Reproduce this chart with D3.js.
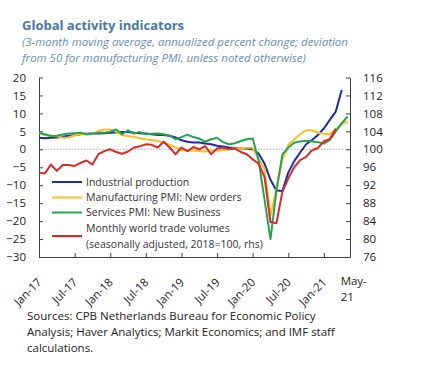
<!DOCTYPE html>
<html>
<head>
<meta charset="utf-8">
<script src="https://cdn.jsdelivr.net/npm/d3@7"></script>
<style>
  body { margin: 0; background: #fff; }
  svg { display: block; font-family: "Open Sans", sans-serif; }
  .axis path, .axis line { stroke: #404040; }
  .axis text { fill: #222; font-size: 11.5px; font-family: "Open Sans", sans-serif; }
</style>
</head>
<body>
<svg id="chart" width="432" height="380"></svg>
<script>
// months are indexed from Jan-17 (0) to May-21 (52)
var tickMonths = [0, 6, 12, 18, 24, 30, 36, 42, 48];
var tickLabels = ["Jan-17", "Jul-17", "Jan-18", "Jul-18", "Jan-19", "Jul-19", "Jan-20", "Jul-20", "Jan-21"];
var lastLabel = ["May-", "21"];
var lastMonth = 52;

var leftTicks = [20, 15, 10, 5, 0, -5, -10, -15, -20, -25, -30];
var rightTicks = [116, 112, 108, 104, 100, 96, 92, 88, 84, 80, 76];

// lhs, percent
var industrial = [3.2, 3.1, 3.2, 3.3, 3.5, 3.8, 4.0, 4.2, 4.3, 4.4,
  4.4, 4.5, 4.6, 4.7, 4.8, 4.8, 4.6, 4.5, 4.4, 4.2,
  4.0, 4.0, 3.8, 3.3, 2.5, 2.1, 1.9, 1.9, 1.6, 1.4,
  1.0, 0.8, 0.5, 0.3, 0.3, 0.2, 0.0, -1.2, -4.0, -8.5,
  -11.5, -11.6, -6.5, -3.3, -0.9, 1.4, 2.6, 4.0, 5.8, 8.2,
  10.5, 16.5, null];

var manufacturing = [4.6, 3.9, 3.8, 3.6, 3.2, 3.3, 3.9, 4.3, 4.1, 4.2,
  5.1, 5.5, 5.5, 4.9, 3.9, 3.7, 3.4, 3.1, 2.8, 2.6,
  2.3, 1.9, 1.2, 0.5, -0.2, -0.3, -0.4, -0.5, -0.6, -0.5,
  -0.3, -0.2, 0.0, 0.2, 0.3, 0.4, 0.4, -2.8, -5.5, -18.5,
  -11.0, -3.0, 1.2, 2.8, 4.2, 5.3, 5.3, 4.6, 4.3, 4.2,
  5.6, 7.0, 7.8];

var services = [4.6, 4.2, 3.7, 3.8, 4.1, 4.4, 4.5, 4.6, 4.2, 4.4,
  4.6, 4.6, 4.9, 5.5, 4.2, 5.3, 4.4, 4.8, 4.2, 4.3,
  4.4, 4.2, 3.8, 2.8, 3.4, 4.1, 3.4, 3.0, 2.1, 2.8,
  3.2, 2.0, 1.4, 1.7, 2.3, 2.8, 3.0, -3.0, -14.0, -25.0,
  -11.5, -1.5, 0.5, 1.8, 2.2, 2.4, 2.2, 2.0, 1.6, 2.6,
  5.0, 7.2, 9.2];

// rhs, index 2018=100
var trade = [94.8, 94.6, 96.6, 95.2, 96.5, 96.5, 96.3, 97.0, 97.5, 96.6,
  98.9, 99.6, 100.0, 99.4, 99.0, 99.5, 100.4, 100.7, 101.1, 101.0,
  100.4, 101.7, 100.4, 98.9, 100.4, 99.6, 100.5, 100.0, 100.7, 98.9,
  100.2, 100.4, 100.0, 100.2, 99.4, 98.9, 97.8, 96.8, 93.8, 83.8,
  83.5, 90.5, 93.5, 96.0, 97.6, 98.3, 99.8, 100.3, 101.8, 102.3,
  104.6, null, null];

var series = [
  { name: "Industrial production", values: industrial, axis: "left", color: "#1f2aa3" },
  { name: "Manufacturing PMI: New orders", values: manufacturing, axis: "left", color: "#f6c02c" },
  { name: "Services PMI: New Business", values: services, axis: "left", color: "#27a451" },
  { name: ["Monthly world trade volumes", "(seasonally adjusted, 2018=100, rhs)"], values: trade, axis: "right", color: "#db2a2a" }
];

var svg = d3.select("#chart");
var margin = { left: 39, right: 350, top: 77.5, bottom: 257 };

var x = d3.scaleLinear().domain([0, 52.4]).range([margin.left, margin.right]);
var yL = d3.scaleLinear().domain([-30, 20]).range([margin.bottom, margin.top]);
var yR = d3.scaleLinear().domain([76, 116]).range([margin.bottom, margin.top]);

// Title
svg.append("text").attr("x", 22).attr("y", 30)
  .style("font-size", "13px").style("font-weight", "700").style("fill", "#4a79a6")
  .text("Global activity indicators");
svg.append("text").attr("x", 22).attr("y", 46)
  .style("font-size", "11.5px").style("font-style", "italic").style("fill", "#6a8db2")
  .text("(3-month moving average, annualized percent change; deviation");
svg.append("text").attr("x", 22).attr("y", 62)
  .style("font-size", "11.5px").style("font-style", "italic").style("fill", "#6a8db2")
  .text("from 50 for manufacturing PMI, unless noted otherwise)");

// zero line
svg.append("line")
  .attr("x1", margin.left).attr("x2", margin.right)
  .attr("y1", yL(0)).attr("y2", yL(0))
  .style("stroke", "#b0b0b0").style("stroke-dasharray", "1.5,1.5");

// Axes
svg.append("g").attr("class", "axis")
  .attr("transform", "translate(" + margin.left + ",0)")
  .call(d3.axisLeft(yL).tickValues(leftTicks).tickSizeInner(-4).tickSizeOuter(0).tickPadding(13));

svg.append("g").attr("class", "axis")
  .attr("transform", "translate(" + margin.right + ",0)")
  .call(d3.axisRight(yR).tickValues(rightTicks).tickSizeInner(-4).tickSizeOuter(0).tickPadding(13));

var xAxis = svg.append("g").attr("class", "axis")
  .attr("transform", "translate(0," + margin.bottom + ")")
  .call(d3.axisBottom(x).tickValues(tickMonths)
    .tickFormat(function(d, i) { return tickLabels[i]; })
    .tickSizeInner(-4).tickSizeOuter(0));

xAxis.selectAll(".tick text")
  .attr("y", 0).attr("dy", 0)
  .attr("text-anchor", "end")
  .attr("transform", "translate(3,26) rotate(-45)");

var lastText = xAxis.append("text")
  .attr("x", x(lastMonth) - 7).attr("y", 28)
  .attr("text-anchor", "start")
  .style("fill", "#222").style("font-size", "11.5px");
lastText.selectAll("tspan").data(lastLabel).enter().append("tspan")
  .attr("x", x(lastMonth) - 7).attr("dy", function(d, i) { return i ? 16 : 0; })
  .text(function(d) { return d; });

// Lines
series.forEach(function(s) {
  var yScale = s.axis === "left" ? yL : yR;
  var line = d3.line()
    .defined(function(d) { return d != null; })
    .x(function(d, i) { return x(i); })
    .y(function(d) { return yScale(d); });
  svg.append("path")
    .datum(s.values)
    .attr("d", line)
    .style("fill", "none")
    .style("stroke", s.color)
    .style("stroke-width", 2)
    .style("stroke-linejoin", "round");
});

// Legend
var legend = svg.append("g").attr("transform", "translate(52,182)");
var rowY = [0, 15.5, 30.5, 54];
series.forEach(function(s, i) {
  var g = legend.append("g").attr("transform", "translate(0," + rowY[i] + ")");
  g.append("line").attr("x1", 0).attr("x2", 30).attr("y1", 0).attr("y2", 0)
    .style("stroke", s.color).style("stroke-width", 2);
  var names = Array.isArray(s.name) ? s.name : [s.name];
  names.forEach(function(n, j) {
    g.append("text")
      .attr("x", 34)
      .attr("y", (names.length > 1 ? (j - 0.5) * 15.5 : 0) + 3.8)
      .style("font-size", "10.5px").style("fill", "#333")
      .text(n);
  });
});

// Sources
var sources = ["Sources: CPB Netherlands Bureau for Economic Policy",
  "Analysis; Haver Analytics; Markit Economics; and IMF staff",
  "calculations."];
svg.selectAll(".src").data(sources).enter().append("text")
  .attr("class", "src")
  .attr("x", 27).attr("y", function(d, i) { return 320 + i * 16; })
  .style("font-size", "11.5px").style("fill", "#222")
  .text(function(d) { return d; });
</script>
</body>
</html>
